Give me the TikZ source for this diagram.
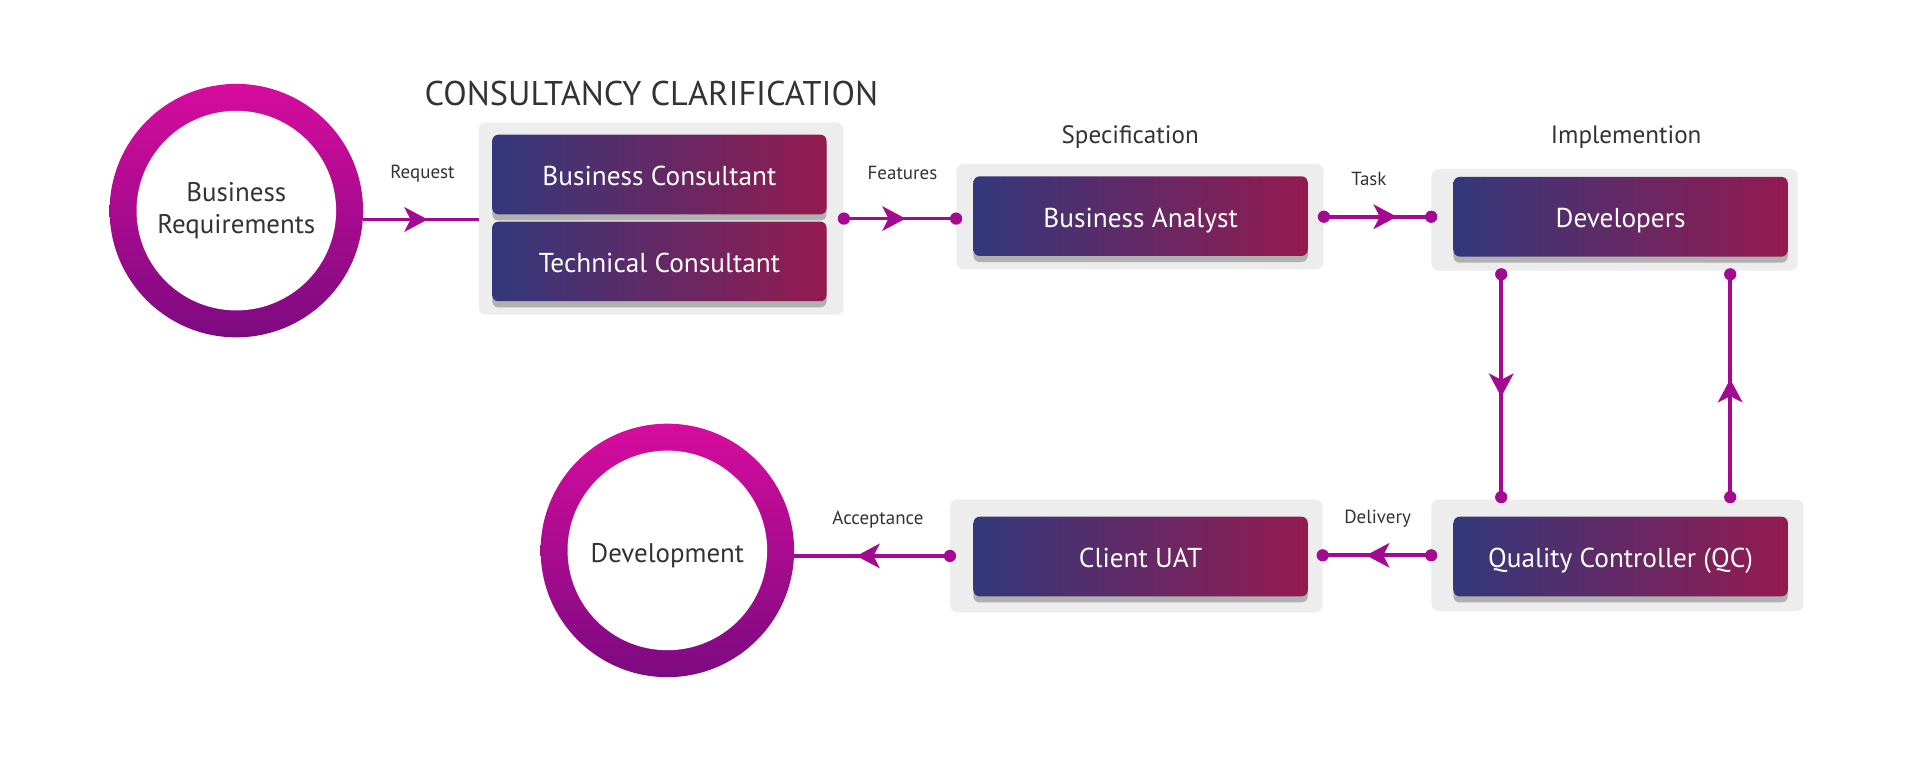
\documentclass[tikz,border=0pt]{standalone}
\usepackage{fontspec}
\setmainfont{PT Sans}
\usetikzlibrary{arrows.meta,shadows,decorations.markings,calc}
\definecolor{ringtop}{RGB}{214,12,158}
\definecolor{ringbot}{RGB}{124,10,128}
\definecolor{boxl}{RGB}{50,56,123}
\definecolor{boxr}{RGB}{148,26,80}
\definecolor{grp}{RGB}{237,237,237}
\definecolor{lnk}{RGB}{163,10,145}
\definecolor{txt}{RGB}{51,51,51}
\begin{document}
\begin{tikzpicture}[x=1pt,y=-1pt,
 grpbox/.style={fill=grp, rounded corners=6pt, inner sep=0pt},
 inbox/.style={rounded corners=5pt, left color=boxl, right color=boxr,
   minimum width=273pt, minimum height=65pt, inner sep=0pt, text=white,
   text height=22pt, text depth=4pt,
   font=\fontsize{22.3}{26}\selectfont,
   drop shadow={shadow xshift=0pt, shadow yshift=-5pt, opacity=0.25, fill=black}},
 ring/.style={circle, minimum size=207pt, inner sep=0pt, top color=ringtop, bottom color=ringbot},
 hole/.style={circle, fill=white, minimum size=163pt, inner sep=0pt, text=txt, align=center,
   font=\fontsize{22}{26}\selectfont},
 lbl/.style={text=txt, font=\fontsize{15.5}{18}\selectfont},
 head/.style={text=txt, font=\fontsize{20.5}{24}\selectfont},
 link/.style={color=lnk, line width=3pt},
 midarrow/.style={postaction={decorate}, decoration={markings,
   mark=at position #1 with {\arrow{Stealth[length=19pt,width=20pt,inset=5pt]}}}},
]
\useasboundingbox (0,0) rectangle (1568,619);
\fill[white] (0,0) rectangle (1568,619);

% rings
\node[ring] (br) at (193,172) {};
\node[hole] (brt) at (br.center) {Business\\Requirements};
\node[ring] (dv) at (545,449.5) {};
\node[hole, text height=24.5pt, text depth=5pt] (dvt) at (dv.center) {Development};

% group boxes
\node[grpbox, minimum width=298pt, minimum height=157pt] (g1) at (540,178.5) {};
\node[grpbox, minimum width=300pt, minimum height=86pt] (g2) at (931,177) {};
\node[grpbox, minimum width=299pt, minimum height=83pt] (g3) at (1318.5,179.5) {};
\node[grpbox, minimum width=304pt, minimum height=91pt] (g4) at (1321,453.5) {};
\node[grpbox, minimum width=304pt, minimum height=92pt] (g5) at (928,454) {};

% inner boxes
\node[inbox] (bc) at (538.5,142.5) {Business Consultant};
\node[inbox] (tc) at (538.5,213.5) {Technical Consultant};
\node[inbox] (ba) at (931.5,176.5) {Business Analyst};
\node[inbox] (dev) at (1323.5,177) {Developers};
\node[inbox] (qc) at (1323.5,454.5) {Quality Controller (QC)};
\node[inbox] (uat) at (931.5,454.5) {Client UAT};

% headings and labels
\node[text=txt, font=\fontsize{28}{32}\selectfont] (title) at (532,76) {CONSULTANCY CLARIFICATION};
\node[head] (spec) at (923,112) {Specification};
\node[head] (impl) at (1328,112) {Implemention};
\node[lbl] (lreq) at (345,142) {Request};
\node[lbl] (lfeat) at (737,141) {Features};
\node[lbl] (ltask) at (1118,146) {Task};
\node[lbl] (ldel) at (1125,424) {Delivery};
\node[lbl] (lacc) at (717,424) {Acceptance};

% connectors
\draw[link, midarrow=0.56] (br.-4) -- (br.-4 -| g1.west);
\draw[link, midarrow=0.55] (g1.east) -- (g1.east -| g2.west);
\fill[lnk] (g1.east) circle (5pt) (g1.east -| g2.west) circle (5pt);
\draw[link, midarrow=0.68] (g2.east) -- (g2.east -| g3.west);
\fill[lnk] (g2.east) circle (5pt) (g2.east -| g3.west) circle (5pt);

\coordinate (v1a) at (1226,224);
\coordinate (v1b) at (1226,406);
\coordinate (v2a) at (1413,224);
\coordinate (v2b) at (1413,406);
\draw[link, midarrow=0.55] (v1a) -- (v1b);
\draw[link, midarrow=0.53] (v2b) -- (v2a);
\fill[lnk] (v1a) circle (5pt) (v1b) circle (5pt) (v2a) circle (5pt) (v2b) circle (5pt);

\draw[link, midarrow=0.6] (g4.west) -- (g4.west -| g5.east);
\fill[lnk] (g4.west) circle (5pt) (g4.west -| g5.east) circle (5pt);
\draw[link, midarrow=0.6] (g5.west) -- (g5.west -| dv.-4);
\fill[lnk] (g5.west) circle (5pt);
\end{tikzpicture}
\end{document}
